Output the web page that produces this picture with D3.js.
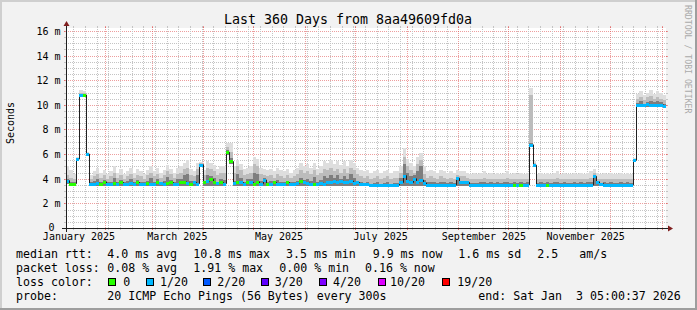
<!DOCTYPE html>
<html><head><meta charset="utf-8">
<script src="https://cdn.jsdelivr.net/npm/d3@7"></script>
<style>
html,body{margin:0;padding:0;background:#f2f2f2;overflow:hidden;}
svg{display:block;}
text{font-family:"DejaVu Sans Mono",monospace;white-space:pre;}
</style></head><body>
<svg id="chart" width="697" height="310"></svg>
<script>
// ---------------- data ----------------
const title = "Last 360 Days from 8aa49609fd0a";
const watermark = "RRDTOOL / TOBI OETIKER";
const yLabel = "Seconds";
const endTime = new Date(2026, 0, 3, 5, 0, 37);
const spanDays = 360;
const binDays = 2;   // one value per 2 days

// median rtt (ms) per 2-day bin
const median = [
 3.85,3.6,3.6,5.6,10.8,10.8,6.0,3.6,3.6,3.65, 3.6,3.75,3.6,3.6,3.65,3.6,3.7,3.6,3.6,3.65,
 3.6,3.7,3.6,3.6,3.65,3.6,3.6,3.7,3.65,3.6, 3.65,3.7,3.6,3.6,3.7,3.75,3.65,3.6,3.7,3.6,
 5.15,3.7,3.8,3.95,3.7,3.65,3.7,3.6,6.15,5.4, 3.65,3.75,3.7,3.6,3.75,3.7,3.6,3.75,3.6,3.9,
 3.6,3.6,3.7,3.6,3.55,3.6,3.7,3.6,3.6,3.65, 3.8,3.7,3.65,3.6,3.6,3.6,3.65,3.6,3.7,3.75,
 3.8,3.75,3.8,3.75,3.7,3.8,3.65,3.7,3.6,3.55, 3.55,3.5,3.5,3.5,3.5,3.5,3.5,3.5,3.5,3.5,
 3.7,4.25,3.8,3.7,4.0,3.75,3.9,3.65,3.5,3.5, 3.5,3.5,3.5,3.5,3.5,3.5,3.5,4.05,3.7,3.7,
 3.7,3.5,3.5,3.5,3.5,3.5,3.5,3.5,3.5,3.5, 3.5,3.5,3.5,3.5,3.5,3.5,3.5,3.5,3.5,6.75,
 5.1,3.5,3.5,3.5,3.5,3.5,3.5,3.5,3.5,3.5, 3.5,3.5,3.5,3.5,3.5,3.5,3.5,3.5,4.2,3.75,
 3.6,3.5,3.5,3.5,3.5,3.5,3.5,3.5,3.5,3.5, 5.5,10.0,9.95,10.0,10.05,10.0,9.95,10.0,10.0,9.9
];
// loss bucket index per bin (0 = no loss, 1 = 1/20)
const loss = [
 1,0,0,1,1,0,1,1,1,1, 0,0,1,1,0,1,0,1,1,1,
 1,0,1,1,0,1,1,0,1,1, 0,0,1,1,0,0,1,0,1,1,
 1,0,1,0,0,1,0,1,0,0, 1,0,1,1,0,1,0,0,1,1,
 0,1,0,1,1,1,0,1,1,1, 0,1,1,1,0,1,1,1,1,1,
 1,1,1,1,1,1,1,1,1,1, 1,1,1,1,1,1,1,1,1,1,
 1,1,1,1,1,1,1,1,1,1, 1,1,1,1,1,1,1,1,1,1,
 1,1,1,1,1,1,1,1,1,1, 1,1,1,1,0,1,0,1,1,1,
 1,1,1,1,0,1,1,1,1,1, 1,1,1,1,1,1,1,1,1,1,
 1,1,1,1,1,1,1,1,1,1, 1,1,1,1,1,1,1,1,1,1
];
// smoke: lowest ping, top of dark band, top of mid band, highest ping (ms)
const smokeLo = [
 3.55,3.45,3.45,5.5,10.7,10.7,5.9,3.45,3.45,3.45, 3.45,3.45,3.45,3.45,3.45,3.45,3.45,3.45,3.45,3.45,
 3.45,3.45,3.45,3.45,3.45,3.45,3.45,3.45,3.45,3.45, 3.45,3.45,3.45,3.45,3.45,3.45,3.45,3.45,3.45,3.45,
 4.95,3.45,3.45,3.45,3.45,3.45,3.45,3.45,5.9,5.2, 3.45,3.45,3.45,3.45,3.45,3.45,3.45,3.45,3.45,3.45,
 3.45,3.45,3.45,3.45,3.45,3.45,3.45,3.45,3.45,3.45, 3.45,3.45,3.45,3.45,3.45,3.45,3.45,3.45,3.45,3.45,
 3.45,3.45,3.45,3.45,3.45,3.45,3.45,3.45,3.45,3.4, 3.4,3.4,3.4,3.4,3.4,3.4,3.4,3.4,3.4,3.4,
 3.45,3.45,3.45,3.45,3.45,3.45,3.45,3.45,3.38,3.38, 3.38,3.38,3.38,3.38,3.38,3.38,3.38,3.45,3.45,3.45,
 3.45,3.38,3.38,3.38,3.38,3.38,3.38,3.38,3.38,3.38, 3.38,3.38,3.38,3.38,3.38,3.38,3.38,3.38,3.38,6.6,
 4.95,3.38,3.38,3.38,3.38,3.38,3.38,3.38,3.38,3.38, 3.38,3.38,3.38,3.38,3.38,3.38,3.38,3.38,3.45,3.45,
 3.45,3.38,3.38,3.38,3.38,3.38,3.38,3.38,3.38,3.38, 5.35,9.85,9.85,9.85,9.85,9.85,9.85,9.85,9.85,9.8
];
const smokeDark = [
 3.95,3.75,3.7,5.65,10.9,10.9,6.05,3.7,3.8,3.95, 3.7,3.9,3.7,3.75,4.05,3.7,3.9,3.7,3.8,3.95,
 3.7,3.9,3.75,3.7,3.85,4.05,3.75,3.95,3.7,3.85, 4.15,3.9,3.7,3.95,4.0,4.3,4.4,3.8,3.75,4.3,
 5.2,3.85,4.3,4.2,4.1,3.75,4.0,3.9,6.3,5.7, 3.85,4.4,4.1,3.75,3.95,4.0,4.5,4.4,3.8,4.05,
 3.7,3.8,3.75,3.9,3.7,3.7,3.85,3.7,3.75,3.85, 4.1,3.9,4.0,3.8,4.15,3.75,3.9,4.2,4.1,4.3,
 4.1,4.3,4.0,4.2,4.0,4.4,4.1,3.85,3.7,3.65, 3.7,3.6,3.65,3.7,3.6,3.65,3.7,3.6,3.65,3.65,
 4.1,5.2,4.5,4.2,4.3,4.6,5.0,3.9,3.7,3.75, 3.7,3.65,3.75,3.7,3.65,3.7,3.65,4.15,3.85,3.85,
 3.8,3.65,3.65,3.65,3.7,3.7,3.65,3.7,3.65,3.7, 3.65,3.7,3.7,3.65,3.7,3.65,3.7,3.65,3.7,6.9,
 5.2,3.65,3.7,3.65,3.7,3.65,3.7,3.7,3.65,3.7, 3.65,3.65,3.7,3.65,3.7,3.65,3.7,3.7,4.3,3.8,
 3.65,3.7,3.65,3.7,3.65,3.65,3.7,3.65,3.7,3.65, 5.55,10.15,10.3,10.1,10.25,10.35,10.2,10.3,10.2,10.1
];
const smokeMid = [
 4.3,4.1,4.0,5.7,11.0,11.0,6.1,4.0,4.2,4.4, 4.1,4.3,4.0,4.2,4.5,4.1,4.3,4.0,4.2,4.4,
 4.1,4.3,4.2,4.0,4.3,4.5,4.2,4.4,4.1,4.3, 4.6,4.4,4.1,4.4,4.5,4.8,4.9,4.3,4.2,4.8,
 5.25,4.3,4.9,4.8,4.6,4.3,4.5,4.5,6.6,6.2, 4.5,5.0,4.7,4.3,4.4,4.5,5.2,5.0,4.4,4.3,
 4.2,4.3,4.1,4.4,4.2,4.1,4.3,4.1,4.2,4.4, 4.7,4.5,4.6,4.4,4.7,4.3,4.5,4.8,4.7,4.9,
 4.6,4.8,4.5,4.8,4.5,4.9,4.7,4.4,4.2,4.1, 4.2,4.0,4.1,4.2,4.0,4.1,4.2,4.0,4.1,4.1,
 4.5,5.8,5.0,4.7,4.5,5.2,5.5,4.4,4.1,4.2, 4.1,4.0,4.2,4.1,4.0,4.1,4.0,4.3,4.2,4.2,
 4.1,4.0,4.0,3.95,4.0,4.1,3.95,4.0,3.95,4.0, 3.95,4.0,4.1,3.95,4.0,3.95,4.0,3.95,4.0,10.8,
 5.3,3.95,4.0,3.95,4.0,3.95,4.0,4.1,3.95,4.0, 3.95,3.95,4.0,3.95,4.0,3.95,4.0,4.1,4.5,4.0,
 3.95,4.0,3.95,4.0,3.95,3.95,4.0,3.95,4.0,3.95, 5.6,10.5,10.6,10.4,10.6,10.7,10.5,10.6,10.5,10.4
];
const smokeMax = [
 5.0,4.7,4.4,5.8,11.2,11.15,6.2,4.3,4.6,4.9, 4.5,4.7,4.4,4.6,5.0,4.5,4.8,4.4,4.6,4.9,
 4.5,4.8,4.6,4.4,4.7,5.0,4.6,4.9,4.5,4.7, 5.1,4.8,4.5,4.9,5.0,5.3,5.5,4.8,4.6,5.3,
 5.35,4.7,5.4,5.3,5.1,4.8,5.0,5.0,6.9,6.9, 5.0,5.5,5.2,4.8,4.9,5.0,5.8,5.6,4.9,4.8,
 4.7,4.8,4.6,4.9,4.7,4.6,4.8,4.5,4.7,4.9, 5.3,5.0,5.2,4.9,5.3,4.8,5.0,5.4,5.3,5.5,
 5.2,5.4,5.1,5.4,5.0,5.5,5.3,4.9,4.7,4.6, 4.7,4.5,4.6,4.7,4.5,4.6,4.7,4.5,4.6,4.6,
 5.0,6.5,5.6,5.3,5.0,5.8,6.1,5.0,4.6,4.7, 4.6,4.5,4.7,4.6,4.5,4.6,4.5,4.7,4.6,4.6,
 4.5,4.4,4.5,4.4,4.5,4.6,4.4,4.5,4.4,4.5, 4.4,4.5,4.6,4.4,4.5,4.4,4.5,4.4,4.5,11.35,
 5.4,4.4,4.5,4.4,4.5,4.4,4.5,4.6,4.4,4.5, 4.4,4.4,4.5,4.4,4.5,4.4,4.5,4.6,4.8,4.5,
 4.4,4.5,4.4,4.5,4.4,4.4,4.5,4.4,4.5,4.4, 5.7,10.9,11.1,10.8,11.0,11.2,10.9,11.1,11.0,10.8
];

const yTicks = [0, 2, 4, 6, 8, 10, 12, 14, 16];
const yTickLabels = ["0 ", "2 m", "4 m", "6 m", "8 m", "10 m", "12 m", "14 m", "16 m"];
const yMinorStep = 0.5;
const yMax = 16.24;
const monthLabels = ["January 2025", "March 2025", "May 2025", "July 2025", "September 2025", "November 2025"];

const lossColors = ["#26ff00", "#00b8ff", "#0059ff", "#5e00ff", "#7e00ff", "#dd00ff", "#ff0000"];
const lossLabels = ["0", "1/20", "2/20", "3/20", "4/20", "10/20", "19/20"];
const smokeColors = ["#dedede", "#bcbcbc", "#7e7e7e"];

const rttStats = ["4.0 ms avg", "10.8 ms max", "3.5 ms min", "9.9 ms now", "1.6 ms sd", "2.5", "am/s"];
const lossStats = ["0.08 % avg", "1.91 % max", "0.00 % min", "0.16 % now"];
const probeText = "20 ICMP Echo Pings (56 Bytes) every 300s";
const endText = "end: Sat Jan  3 05:00:37 2026";

// ---------------- layout ----------------
const W = 697, H = 310;
const X0 = 66, X1 = 666, Y0 = 228, Y1 = 28;
const svg = d3.select("#chart");
const startTime = new Date(endTime.getTime() - spanDays * 864e5);

const xs = d3.scaleTime().domain([startTime, endTime]).range([X0, X1]);
const ys = d3.scaleLinear().domain([0, yMax]).range([Y0, Y1]);

// background + 3D border
svg.append("rect").attr("width", W).attr("height", H).attr("fill", "#f2f2f2");
svg.append("rect").attr("x", 0).attr("y", 0).attr("width", W).attr("height", 2).attr("fill", "#cfcfcf");
svg.append("rect").attr("x", 0).attr("y", 0).attr("width", 2).attr("height", H).attr("fill", "#cfcfcf");
svg.append("rect").attr("x", 0).attr("y", H - 2).attr("width", W).attr("height", 2).attr("fill", "#9e9e9e");
svg.append("rect").attr("x", W - 2).attr("y", 0).attr("width", 2).attr("height", H).attr("fill", "#9e9e9e");

// canvas
svg.append("rect").attr("x", X0).attr("y", Y1).attr("width", X1 - X0).attr("height", Y0 - Y1).attr("fill", "#ffffff");

const grid = svg.append("g").attr("shape-rendering", "crispEdges");
const minorCol = "#c4c4c4", majorCol = "rgba(222,79,79,0.55)";

// horizontal grid
const yMinors = d3.range(yMinorStep, yMax, yMinorStep).filter(v => !yTicks.includes(v));
function hline(v, col) {
  const y = Math.round(ys(v)) + 0.5;
  grid.append("line").attr("x1", X0 - 2).attr("x2", X1 + 2).attr("y1", y).attr("y2", y)
    .attr("stroke", col).attr("stroke-dasharray", "1,1");
  grid.append("line").attr("x1", X0 - 2).attr("x2", X0).attr("y1", y).attr("y2", y).attr("stroke", col);
  grid.append("line").attr("x1", X1).attr("x2", X1 + 2).attr("y1", y).attr("y2", y).attr("stroke", col);
}
yMinors.forEach(v => hline(v, minorCol));
yTicks.filter(v => v > 0).forEach(v => hline(v, majorCol));

// vertical grid
const majors = d3.timeMonth.range(startTime, endTime);
const majorKeys = new Set(majors.map(d => +d));
const minors = d3.timeMonday.range(startTime, endTime).filter(d => !majorKeys.has(+d));
function vline(t, col) {
  const x = Math.floor(xs(t)) + 0.5;
  grid.append("line").attr("x1", x).attr("x2", x).attr("y1", Y0 + 2).attr("y2", Y1 - 2)
    .attr("stroke", col).attr("stroke-dasharray", "1,1");
  grid.append("line").attr("x1", x).attr("x2", x).attr("y1", Y0).attr("y2", Y0 + 2).attr("stroke", col);
  grid.append("line").attr("x1", x).attr("x2", x).attr("y1", Y1 - 2).attr("y2", Y1).attr("stroke", col);
}
minors.forEach(t => vline(t, minorCol));
majors.forEach(t => vline(t, majorCol));

// bins
const bins = median.map((m, i) => ({
  t0: d3.timeDay.offset(startTime, i * binDays),
  t1: d3.timeDay.offset(startTime, (i + 1) * binDays),
  m, loss: loss[i], lo: smokeLo[i], dark: smokeDark[i], mid: smokeMid[i], hi: smokeMax[i]
}));
const bx0 = d => Math.round(xs(d.t0));
const bx1 = d => Math.min(X1, Math.round(xs(d.t1)));

// smoke
const smoke = svg.append("g").attr("shape-rendering", "crispEdges");
[["hi", 0], ["mid", 1], ["dark", 2]].forEach(([key, ci]) => {
  smoke.selectAll("rect.s" + ci).data(bins).enter().append("rect")
    .attr("x", bx0).attr("width", d => bx1(d) - bx0(d))
    .attr("y", d => ys(d[key])).attr("height", d => ys(d.lo) - ys(d[key]))
    .attr("fill", smokeColors[ci]);
});

// median line
const stepPts = bins.map(d => [Math.round(xs(d.t0)) + 0.5, ys(d.m)]);
stepPts.push([X1, ys(bins[bins.length - 1].m)]);
svg.append("path").attr("d", d3.line().curve(d3.curveStepAfter)(stepPts))
  .attr("fill", "none").attr("stroke", "#202020").attr("stroke-width", 1);

// loss-coloured median marks
svg.append("g").attr("shape-rendering", "crispEdges").selectAll("rect").data(bins).enter().append("rect")
  .attr("x", bx0).attr("width", d => bx1(d) - bx0(d))
  .attr("y", d => Math.round(ys(d.m)) - 1).attr("height", 3)
  .attr("fill", d => lossColors[d.loss]);

// axes
const ax = svg.append("g").attr("shape-rendering", "crispEdges");
ax.append("line").attr("x1", X0 - 4).attr("x2", X1 + 4).attr("y1", Y0 + 0.5).attr("y2", Y0 + 0.5).attr("stroke", "#1f1f1f");
ax.append("line").attr("x1", X0 + 0.5).attr("x2", X0 + 0.5).attr("y1", Y0 + 4).attr("y2", Y1 - 4).attr("stroke", "#1f1f1f");
svg.append("path").attr("d", `M${X1 + 2},${Y0 - 2.5}L${X1 + 2},${Y0 + 3.5}L${X1 + 7},${Y0 + 0.5}Z`).attr("fill", "#801f1f");
svg.append("path").attr("d", `M${X0 - 2.5},${Y1 - 2}L${X0 + 3.5},${Y1 - 2}L${X0 + 0.5},${Y1 - 7}Z`).attr("fill", "#801f1f");

// y tick labels
svg.selectAll("text.yt").data(yTicks).enter().append("text")
  .attr("x", 60.5).attr("y", v => Math.round(ys(v)) + (v === 0 ? 3 : 4))
  .attr("text-anchor", "end").attr("font-size", "10px").attr("fill", "#000")
  .text((v, i) => yTickLabels[i]);

// x labels (centred mid-month, every 2 months)
const labelMonths = d3.timeMonth.every(2).range(new Date(2025, 0, 1), endTime);
svg.selectAll("text.xt").data(labelMonths.slice(0, monthLabels.length)).enter().append("text")
  .attr("x", d => xs(d3.timeDay.offset(d, 15))).attr("y", 240)
  .attr("text-anchor", "middle").attr("font-size", "10px").attr("fill", "#000")
  .text((d, i) => monthLabels[i]);

// title, axis label, watermark
svg.append("text").attr("x", 348).attr("y", 24).attr("text-anchor", "middle")
  .attr("font-size", "13.3px").attr("fill", "#000").text(title);
svg.append("text").attr("transform", "translate(14,123) rotate(-90)").attr("text-anchor", "middle")
  .attr("font-size", "10px").attr("fill", "#000").text(yLabel);
svg.append("text").attr("transform", "translate(684.5,5) rotate(90)").attr("text-anchor", "start")
  .attr("font-size", "8.2px").attr("fill", "#aaaaaa").text(watermark);

// legend
const lf = "11.6px";
function lt(x, y, s) {
  svg.append("text").attr("x", x).attr("y", y).attr("font-size", lf).attr("fill", "#000").text(s);
}
const L1 = 258, L2 = 272, L3 = 286, L4 = 300;
lt(16, L1, "median rtt:");
[107.3, 193.3, 286, 372.7, 458.3, 537.3, 579.3].forEach((x, i) => lt(x, L1, rttStats[i]));
lt(16, L2, "packet loss:");
[107.3, 193.3, 279.3, 365].forEach((x, i) => lt(x, L2, lossStats[i]));
lt(16, L3, "loss color:");
const boxX = [108, 146, 203, 261, 319, 378, 442];
const lblX = [123.3, 160, 217.3, 274.7, 333, 390, 457.3];
lossColors.forEach((c, i) => {
  svg.append("rect").attr("x", boxX[i] + 0.5).attr("y", L3 - 8 + 0.5).attr("width", 7).attr("height", 7)
    .attr("fill", c).attr("stroke", "#000").attr("stroke-width", 1);
  lt(lblX[i], L3, lossLabels[i]);
});
lt(16, L4, "probe:");
lt(107.3, L4, probeText);
lt(478.3, L4, endText);
</script>
</body></html>
